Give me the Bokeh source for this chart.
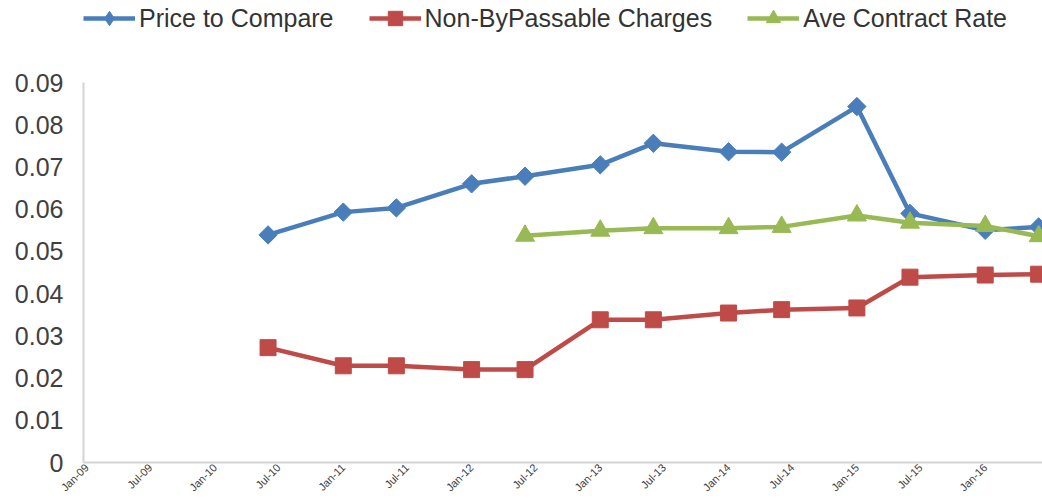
import math
import pandas as pd
from bokeh.plotting import figure
from bokeh.models import Range1d, FixedTicker, Legend, LegendItem
from bokeh.embed import file_html
from bokeh.resources import INLINE

# ---- data ----
dates = ["2010-06-01", "2011-01-01", "2011-06-01", "2012-01-01", "2012-06-01",
         "2013-01-01", "2013-06-01", "2014-01-01", "2014-06-01", "2015-01-01",
         "2015-06-01", "2016-01-01", "2016-06-01"]
price_to_compare = [0.0539, 0.0593, 0.0603, 0.0660, 0.0678, 0.0705, 0.0756,
                    0.0736, 0.0735, 0.0843, 0.0590, 0.0550, 0.0558]
non_bypassable = [0.0272, 0.0229, 0.0229, 0.0220, 0.0220, 0.0338, 0.0338,
                  0.0354, 0.0362, 0.0366, 0.0439, 0.0444, 0.0446]
ave_contract = [float("nan"), float("nan"), float("nan"), float("nan"), 0.0537,
                0.0549, 0.0555, 0.0555, 0.0558, 0.0585, 0.0568, 0.0560, 0.0536]

x_tick_dates = ["2009-01-01", "2009-07-01", "2010-01-01", "2010-07-01", "2011-01-01",
                "2011-07-01", "2012-01-01", "2012-07-01", "2013-01-01", "2013-07-01",
                "2014-01-01", "2014-07-01", "2015-01-01", "2015-07-01", "2016-01-01"]
x_tick_labels = ["Jan-09", "Jul-09", "Jan-10", "Jul-10", "Jan-11", "Jul-11", "Jan-12",
                 "Jul-12", "Jan-13", "Jul-13", "Jan-14", "Jul-14", "Jan-15", "Jul-15",
                 "Jan-16"]
y_ticks = [0, 0.01, 0.02, 0.03, 0.04, 0.05, 0.06, 0.07, 0.08, 0.09]
y_tick_labels = ["0", "0.01", "0.02", "0.03", "0.04", "0.05", "0.06", "0.07", "0.08", "0.09"]

series_names = ["Price to Compare", "Non-ByPassable Charges", "Ave Contract Rate"]
colors = ["#4A7EBB", "#BE4B48", "#98B954"]

# ---- helpers ----
def to_ms(ds):
    return [pd.Timestamp(d).value / 1e6 for d in ds]

x = pd.to_datetime(dates)
xt = to_ms(x_tick_dates)

FONT = "Liberation Sans"
W, H = 1042, 500
BOTTOM = 38          # room for the rotated date labels
TOP_PAD = 82         # space above the 0.09 level used by the legend
frame_h = H - BOTTOM
y_top = y_ticks[-1] * frame_h / (frame_h - TOP_PAD)

p = figure(width=W, height=H, x_axis_type="datetime",
           output_backend="svg", toolbar_location=None,
           x_range=Range1d(pd.Timestamp("2008-12-23"), pd.Timestamp("2016-06-12")),
           y_range=Range1d(0, y_top),
           min_border_left=83, min_border_right=0, min_border_top=0,
           min_border_bottom=BOTTOM)
p.outline_line_color = None
p.background_fill_color = "white"
p.border_fill_color = "white"
p.xgrid.visible = False
p.ygrid.visible = False

# axes
for ax in (p.xaxis[0], p.yaxis[0]):
    ax.axis_line_color = "#D4D4D4"
    ax.axis_line_width = 2
    ax.major_tick_line_color = None
    ax.minor_tick_line_color = None
    ax.major_tick_out = 0
    ax.major_tick_in = 0
    ax.minor_tick_out = 0
    ax.major_label_text_font = FONT
    ax.major_label_text_color = "#404040"

p.yaxis.bounds = (y_ticks[0], y_ticks[-1])
p.yaxis.ticker = FixedTicker(ticks=y_ticks)
p.yaxis.major_label_overrides = {t: l for t, l in zip(y_ticks, y_tick_labels)}
p.yaxis.major_label_text_font_size = "25px"
p.yaxis.major_label_standoff = 20

p.xaxis.ticker = FixedTicker(ticks=xt)
p.xaxis.major_label_overrides = {t: l for t, l in zip(xt, x_tick_labels)}
p.xaxis.major_label_text_font_size = "11px"
p.xaxis.major_label_orientation = math.pi / 4
p.xaxis.major_label_standoff = 3

items = []
values = [price_to_compare, non_bypassable, ave_contract]
for name, vals, col, kind in zip(series_names, values, colors, ["diamond", "square", "triangle"]):
    ln = p.line(x, vals, line_color=col, line_width=4.5)
    if kind == "diamond":
        sc = p.scatter(x, vals, marker="square", angle=math.pi / 4, size=13,
                       fill_color=col, line_color=col)
        # legend-only key with a diamond shape (its single point is not drawn)
        key = p.scatter(x=[x[0]], y=[float("nan")], marker="diamond",
                        fill_color=col, line_color=col)
        rends = [ln, key]
    elif kind == "square":
        sc = p.scatter(x, vals, marker="square", size=16, fill_color=col, line_color=col)
        rends = [ln, sc]
    else:
        sc = p.scatter(x, vals, marker="triangle", size=19, fill_color=col, line_color=col)
        rends = [ln, sc]
    items.append(LegendItem(label=name, renderers=rends))

legend = Legend(items=items, orientation="horizontal", location="top_left",
                glyph_width=52, glyph_height=36, label_height=34, label_standoff=4,
                spacing=35, padding=0, margin=0, border_line_color=None,
                background_fill_alpha=0,
                label_text_font=FONT, label_text_font_size="25px",
                label_text_color="#333333")
p.add_layout(legend, "center")

open("out.html", "w").write(file_html(p, INLINE))
